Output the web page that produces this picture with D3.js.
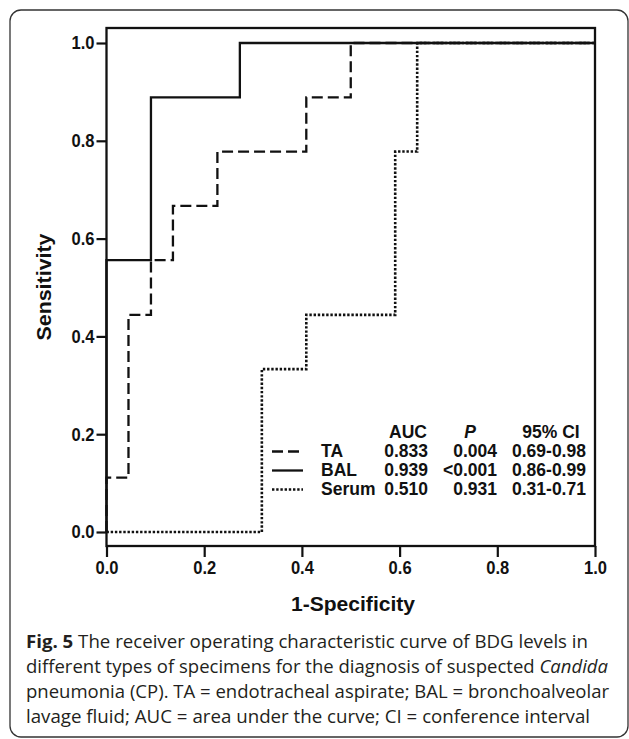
<!DOCTYPE html>
<html>
<head>
<meta charset="utf-8">
<script src="https://cdn.jsdelivr.net/npm/d3@7"></script>
<style>
  html, body { margin: 0; padding: 0; background: #fff; }
  svg { display: block; }
</style>
</head>
<body>
<script>
// ---- data ----
const xTicks = [0, 0.2, 0.4, 0.6, 0.8, 1.0];
const yTicks = [0, 0.2, 0.4, 0.6, 0.8, 1.0];
const seriesNames = ["TA", "BAL", "Serum"];
const aucValues = ["0.833", "0.939", "0.510"];
const pValues = ["0.004", "<0.001", "0.931"];
const ciValues = ["0.69-0.98", "0.86-0.99", "0.31-0.71"];
// ROC vertices (1-specificity, sensitivity), drawn as step-after staircase
const taPoints = [[0,0],[0,0.111],[0.045,0.444],[0.091,0.556],[0.136,0.667],[0.227,0.778],[0.409,0.889],[0.5,1],[1,1]];
const balPoints = [[0,0],[0,0.556],[0.091,0.889],[0.273,1],[1,1]];
const serumPoints = [[0,0],[0.318,0.333],[0.409,0.444],[0.591,0.778],[0.636,1],[1,1]];
const captionLines = [
  [{t:"Fig. 5", b:true},{t:" The receiver operating characteristic curve of BDG levels in"}],
  [{t:"different types of specimens for the diagnosis of suspected "},{t:"Candida", i:true}],
  [{t:"pneumonia (CP). TA = endotracheal aspirate; BAL = bronchoalveolar"}],
  [{t:"lavage fluid; AUC = area under the curve; CI = conference interval"}]
];

// ---- layout ----
const W = 629, H = 739;
const svg = d3.select("body").append("svg").attr("width", W).attr("height", H);
const chartFont = "'Liberation Sans', Arial, sans-serif";
const ink = "#111";

// outer rounded box
svg.append("rect").attr("x", 10).attr("y", 10).attr("width", 618).attr("height", 727)
  .attr("rx", 11).attr("ry", 11).attr("fill", "none").attr("stroke", "#333").attr("stroke-width", 1.3);

const frame = {left: 106.5, right: 595, top: 28, bottom: 546};
const x = d3.scaleLinear().domain([0, 1]).range([frame.left, 595]);
const y = d3.scaleLinear().domain([0, 1]).range([532, 43]);

const line = d3.line().x(d => x(d[0])).y(d => y(d[1])).curve(d3.curveStepAfter);
const styles = {
  TA: {dash: "11,5", w: 2.3},
  BAL: {dash: null, w: 2.3},
  Serum: {dash: "2.4,1.8", w: 2.6}
};
const seriesData = {TA: taPoints, BAL: balPoints, Serum: serumPoints};

["Serum", "TA", "BAL"].forEach(name => {
  svg.append("path").datum(seriesData[name]).attr("d", line)
    .attr("fill", "none").attr("stroke", ink).attr("stroke-width", styles[name].w)
    .attr("stroke-dasharray", styles[name].dash)
    .attr("stroke-linejoin", "miter").attr("stroke-linecap", "butt");
});

// frame
svg.append("rect").attr("x", frame.left).attr("y", frame.top)
  .attr("width", frame.right - frame.left).attr("height", frame.bottom - frame.top)
  .attr("fill", "none").attr("stroke", ink).attr("stroke-width", 2.3);

// y axis
const yAxis = d3.axisLeft(y).tickValues(yTicks).tickFormat(d3.format(".1f")).tickSize(10).tickPadding(2);
const gy = svg.append("g").attr("transform", `translate(${frame.left},0)`).call(yAxis);
gy.select(".domain").remove();
gy.selectAll(".tick line").attr("stroke", ink).attr("stroke-width", 2.2);
gy.selectAll(".tick text").attr("fill", ink).attr("font-family", chartFont)
  .attr("font-weight", "bold").attr("font-size", 18.5)
  .attr("textLength", 23).attr("lengthAdjust", "spacingAndGlyphs");

// x axis
const xAxis = d3.axisBottom(x).tickValues(xTicks).tickFormat(d3.format(".1f")).tickSize(11).tickPadding(4);
const gx = svg.append("g").attr("transform", `translate(0,${frame.bottom})`).call(xAxis);
gx.select(".domain").remove();
gx.selectAll(".tick line").attr("stroke", ink).attr("stroke-width", 2.2);
gx.selectAll(".tick text").attr("fill", ink).attr("font-family", chartFont)
  .attr("font-weight", "bold").attr("font-size", 18.5)
  .attr("textLength", 23).attr("lengthAdjust", "spacingAndGlyphs");

// axis titles
svg.append("text").attr("x", 353).attr("y", 611).attr("text-anchor", "middle")
  .attr("font-family", chartFont).attr("font-weight", "bold").attr("font-size", 20)
  .attr("fill", ink).attr("textLength", 124).attr("lengthAdjust", "spacingAndGlyphs")
  .text("1-Specificity");
svg.append("text").attr("transform", "translate(51,287) rotate(-90)").attr("text-anchor", "middle")
  .attr("font-family", chartFont).attr("font-weight", "bold").attr("font-size", 20)
  .attr("fill", ink).attr("textLength", 107).attr("lengthAdjust", "spacingAndGlyphs")
  .text("Sensitivity");

// legend table
const lg = svg.append("g").attr("font-family", chartFont).attr("font-weight", "bold")
  .attr("font-size", 17.5).attr("fill", ink);
lg.append("text").attr("x", 408).attr("y", 438).attr("text-anchor", "middle").text("AUC");
lg.append("text").attr("x", 470).attr("y", 438).attr("text-anchor", "middle").attr("font-style", "italic").text("P");
lg.append("text").attr("x", 551).attr("y", 438).attr("text-anchor", "middle").text("95% CI");
const rowY = [457, 476, 495];
seriesNames.forEach((name, i) => {
  const yy = rowY[i];
  svg.append("line").attr("x1", 272).attr("x2", 303).attr("y1", yy - 5.5).attr("y2", yy - 5.5)
    .attr("stroke", ink).attr("stroke-width", styles[name].w).attr("stroke-dasharray", styles[name].dash);
  lg.append("text").attr("x", 321).attr("y", yy).text(name);
  lg.append("text").attr("x", 428).attr("y", yy).attr("text-anchor", "end").text(aucValues[i]);
  lg.append("text").attr("x", 497).attr("y", yy).attr("text-anchor", "end").text(pValues[i]);
  lg.append("text").attr("x", 512).attr("y", yy).text(ciValues[i]);
});

// caption
const capBase = [648, 673, 698, 723];
const capLen = [562, 582, 583, 564];
captionLines.forEach((parts, i) => {
  const t = svg.append("text").attr("x", 26).attr("y", capBase[i])
    .attr("font-family", "'Open Sans', sans-serif").attr("font-size", 18).attr("fill", "#231f20")
    .attr("textLength", capLen[i]).attr("lengthAdjust", "spacingAndGlyphs")
    .style("white-space", "pre");
  parts.forEach(p => {
    t.append("tspan").attr("font-weight", p.b ? "bold" : null)
      .attr("font-style", p.i ? "italic" : null).text(p.t);
  });
});
</script>
</body>
</html>
